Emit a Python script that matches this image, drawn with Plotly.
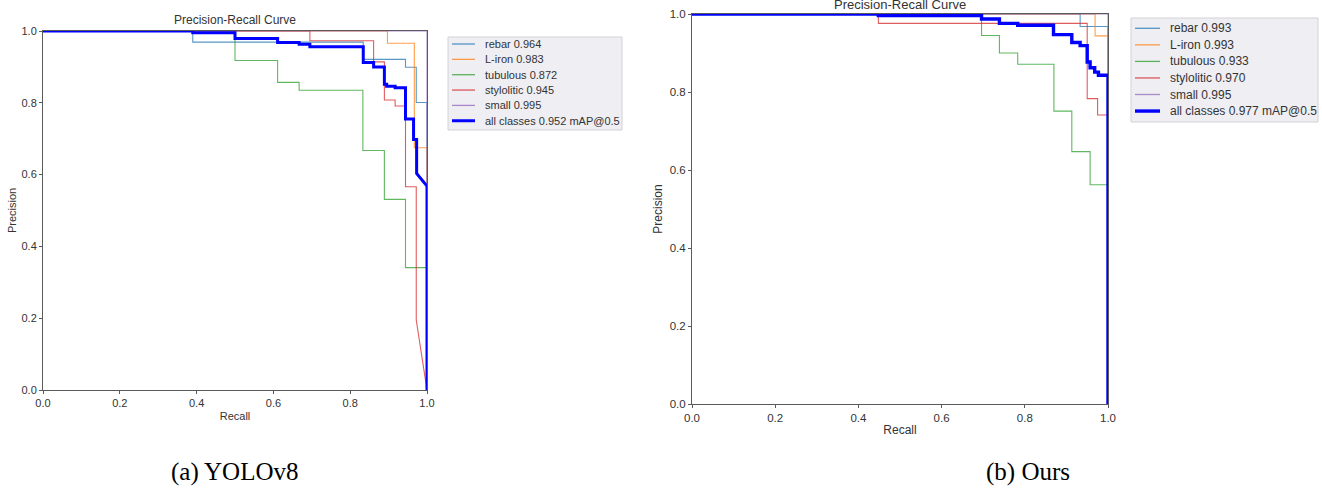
import plotly.graph_objects as go

W, H = 1322, 488

# ---- data -------------------------------------------------------------
CLASSES = ["rebar", "L-iron", "tubulous", "stylolitic", "small"]
CLASS_COLORS = ["#1f77b4", "#ff7f0e", "#2ca02c", "#d62728", "#9467bd"]
ALL_COLOR = "#0000ff"

# AP@0.5 per class and overall mAP@0.5
AP_YOLO = [0.964, 0.983, 0.872, 0.945, 0.995]
MAP_YOLO = 0.952
AP_OURS = [0.993, 0.993, 0.933, 0.970, 0.995]
MAP_OURS = 0.977

# PR curves as steps: recall break points, precision levels
# (levels[0] holds from recall 0 to breaks[0], levels[i] from breaks[i-1] on),
# optional tail = precision reached linearly at recall 1.0
YOLO_REBAR_R = [0.39, 0.834, 0.944, 0.972]
YOLO_REBAR_P = [1.0, 0.969, 0.921, 0.899, 0.801]
YOLO_LIRON_R = [0.897, 0.967]
YOLO_LIRON_P = [1.0, 0.966, 0.675]
YOLO_TUB_R = [0.5, 0.611, 0.667, 0.833, 0.889, 0.944]
YOLO_TUB_P = [1.0, 0.918, 0.857, 0.835, 0.667, 0.531, 0.341]
YOLO_STY_R = [0.695, 0.861, 0.889, 0.917, 0.944, 0.972]
YOLO_STY_P = [1.0, 0.973, 0.914, 0.808, 0.791, 0.566, 0.195]
YOLO_STY_TAIL = 0.0
YOLO_SMALL_R = []
YOLO_SMALL_P = [1.0]
YOLO_ALL_R = [0.39, 0.5, 0.611, 0.667, 0.695, 0.834, 0.861, 0.889, 0.895,
              0.917, 0.944, 0.965, 0.973]
YOLO_ALL_P = [1.0, 0.995, 0.979, 0.968, 0.963, 0.956, 0.912, 0.90, 0.852,
              0.846, 0.842, 0.755, 0.698, 0.603]
YOLO_ALL_TAIL = 0.568

OURS_REBAR_R = [0.933]
OURS_REBAR_P = [1.0, 0.968]
OURS_LIRON_R = [0.969]
OURS_LIRON_P = [1.0, 0.944]
OURS_TUB_R = [0.696, 0.739, 0.783, 0.870, 0.913, 0.957]
OURS_TUB_P = [1.0, 0.945, 0.90, 0.871, 0.751, 0.647, 0.562]
OURS_STY_R = [0.448, 0.950, 0.975]
OURS_STY_P = [1.0, 0.976, 0.783, 0.741]
OURS_SMALL_R = []
OURS_SMALL_P = [1.0]
OURS_ALL_R = [0.448, 0.696, 0.739, 0.783, 0.869, 0.913, 0.933, 0.950, 0.957,
              0.968, 0.977]
OURS_ALL_P = [1.0, 0.996, 0.987, 0.976, 0.971, 0.947, 0.927, 0.919, 0.877,
              0.862, 0.851, 0.843]

TICKS = [0.0, 0.2, 0.4, 0.6, 0.8, 1.0]
TICK_TEXT = ["0.0", "0.2", "0.4", "0.6", "0.8", "1.0"]


def pr_path(breaks, levels, tail=None):
    """Expand step data into polyline vertices ending with a drop at recall 1."""
    xs, ys = [0.0], [levels[0]]
    for r, p in zip(breaks, levels[1:]):
        xs += [r, r]
        ys += [ys[-1], p]
    end = levels[-1] if tail is None else tail
    xs += [1.0, 1.0]
    ys += [end, 0.0]
    return xs, ys


def px(x):
    return x / W


def py(y):
    return 1 - y / H


SANS = "Liberation Sans, Arial, sans-serif"
SERIF = "Liberation Serif, Times New Roman, serif"
TXT = "#333333"
SPINE = "#5a5a5a"

fig = go.Figure()

panels = [
    dict(
        xa="x", ya="y",
        curves=[(YOLO_REBAR_R, YOLO_REBAR_P, None), (YOLO_LIRON_R, YOLO_LIRON_P, None),
                (YOLO_TUB_R, YOLO_TUB_P, None), (YOLO_STY_R, YOLO_STY_P, YOLO_STY_TAIL),
                (YOLO_SMALL_R, YOLO_SMALL_P, None)],
        all_curve=(YOLO_ALL_R, YOLO_ALL_P, YOLO_ALL_TAIL),
        ap=AP_YOLO, mAP=MAP_YOLO,
        xdom=[px(43), px(427)], ydom=[py(390), py(31)],
        title_xy=(235, 20), title_size=12,
        leg_box=(448, 37, 622, 130), leg_sw=(452, 475), leg_tx=483,
        leg_y0=44.0, leg_dy=15.35, leg_size=11, all_w=3.0,
        tick_size=11, label_size=11, x_standoff=4, y_standoff=2,
        caption="(a) YOLOv8", caption_x=235,
    ),
    dict(
        xa="x2", ya="y2",
        curves=[(OURS_REBAR_R, OURS_REBAR_P, None), (OURS_LIRON_R, OURS_LIRON_P, None),
                (OURS_TUB_R, OURS_TUB_P, None), (OURS_STY_R, OURS_STY_P, None),
                (OURS_SMALL_R, OURS_SMALL_P, None)],
        all_curve=(OURS_ALL_R, OURS_ALL_P, None),
        ap=AP_OURS, mAP=MAP_OURS,
        xdom=[px(692), px(1108)], ydom=[py(404), py(14)],
        title_xy=(900, 4), title_size=13,
        leg_box=(1131, 18, 1318, 122), leg_sw=(1135, 1160), leg_tx=1168,
        leg_y0=28.3, leg_dy=16.55, leg_size=12, all_w=3.4,
        tick_size=11.5, label_size=12, x_standoff=2, y_standoff=4,
        caption="(b) Ours", caption_x=1028,
    ),
]

shapes = []
annotations = []

for i, pn in enumerate(panels):
    # per-class curves
    for name, color, (br, lv, tail) in zip(CLASSES, CLASS_COLORS, pn["curves"]):
        xs, ys = pr_path(br, lv, tail)
        fig.add_trace(go.Scatter(
            x=xs, y=ys, mode="lines", name=name, showlegend=False,
            line=dict(color=color, width=1.1), opacity=0.75,
            xaxis=pn["xa"], yaxis=pn["ya"], hoverinfo="skip",
        ))
    br, lv, tail = pn["all_curve"]
    xs, ys = pr_path(br, lv, tail)
    fig.add_trace(go.Scatter(
        x=xs, y=ys, mode="lines", name="all classes", showlegend=False,
        line=dict(color=ALL_COLOR, width=pn["all_w"]),
        xaxis=pn["xa"], yaxis=pn["ya"], hoverinfo="skip",
    ))

    axis_common = dict(
        range=[0, 1], tickvals=TICKS, ticktext=TICK_TEXT,
        showgrid=False, zeroline=False, showline=True, mirror=True,
        linecolor=SPINE, linewidth=1, ticks="outside", ticklen=3,
        tickcolor=SPINE, tickwidth=1, automargin=False,
        tickfont=dict(family=SANS, size=pn["tick_size"], color=TXT),
        fixedrange=True,
    )
    xkey = "xaxis" if i == 0 else "xaxis2"
    ykey = "yaxis" if i == 0 else "yaxis2"
    fig.update_layout({
        xkey: dict(axis_common, domain=pn["xdom"], anchor=pn["ya"],
                   title=dict(text="Recall", standoff=pn["x_standoff"],
                              font=dict(family=SANS, size=pn["label_size"], color=TXT))),
        ykey: dict(axis_common, domain=pn["ydom"], anchor=pn["xa"],
                   title=dict(text="Precision", standoff=pn["y_standoff"],
                              font=dict(family=SANS, size=pn["label_size"], color=TXT))),
    })

    # panel title
    tx, ty = pn["title_xy"]
    annotations.append(dict(
        text="Precision-Recall Curve", x=px(tx), y=py(ty), xref="paper", yref="paper",
        xanchor="center", yanchor="middle", showarrow=False,
        font=dict(family=SANS, size=pn["title_size"], color=TXT),
    ))

    # legend box
    x0, y0, x1, y1 = pn["leg_box"]
    shapes.append(dict(
        type="rect", xref="paper", yref="paper",
        x0=px(x0), x1=px(x1), y0=py(y1), y1=py(y0),
        fillcolor="#eeeef3", line=dict(color="#d2d2d8", width=1), layer="above",
    ))
    labels = [f"{n} {a:.3f}" for n, a in zip(CLASSES, pn["ap"])]
    labels.append(f"all classes {pn['mAP']:.3f} mAP@0.5")
    colors = CLASS_COLORS + [ALL_COLOR]
    for k, (lab, col) in enumerate(zip(labels, colors)):
        yy = pn["leg_y0"] + k * pn["leg_dy"]
        is_all = k == len(CLASSES)
        shapes.append(dict(
            type="line", xref="paper", yref="paper",
            x0=px(pn["leg_sw"][0]), x1=px(pn["leg_sw"][1]), y0=py(yy), y1=py(yy),
            line=dict(color=col, width=pn["all_w"] if is_all else 1.3),
            opacity=1.0 if is_all else 0.75, layer="above",
        ))
        annotations.append(dict(
            text=lab, x=px(pn["leg_tx"]), y=py(yy), xref="paper", yref="paper",
            xanchor="left", yanchor="middle", showarrow=False,
            font=dict(family=SANS, size=pn["leg_size"], color=TXT),
        ))

    # caption
    annotations.append(dict(
        text=pn["caption"], x=px(pn["caption_x"]), y=py(472), xref="paper", yref="paper",
        xanchor="center", yanchor="middle", showarrow=False,
        font=dict(family=SERIF, size=25, color="#000000"),
    ))

fig.update_layout(
    width=W, height=H,
    margin=dict(l=0, r=0, t=0, b=0, autoexpand=False),
    paper_bgcolor="white", plot_bgcolor="white",
    showlegend=False,
    shapes=shapes, annotations=annotations,
)

fig.write_html("out.html", config={"displayModeBar": False})
